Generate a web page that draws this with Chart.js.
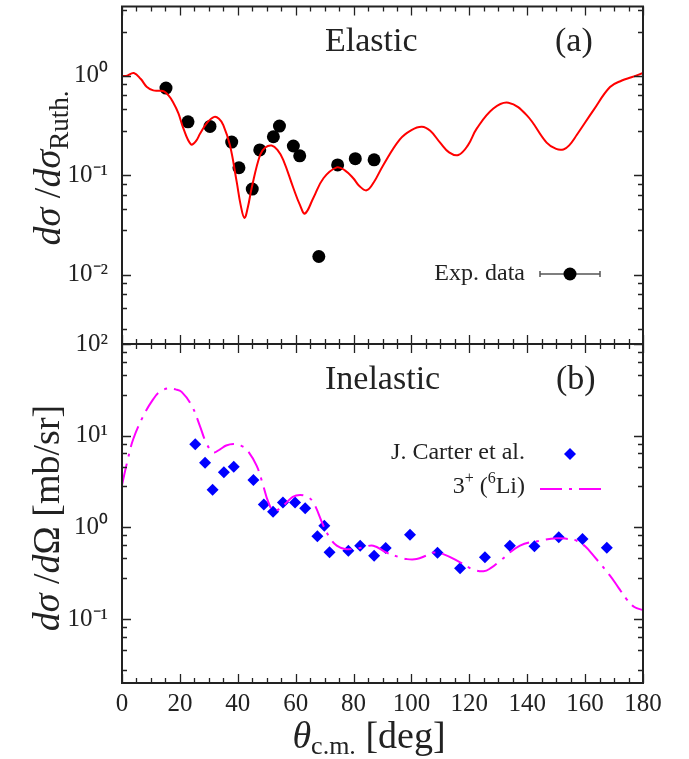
<!DOCTYPE html>
<html><head><meta charset="utf-8">
<script src="https://cdn.jsdelivr.net/npm/chart.js@4/dist/chart.umd.min.js"></script>
<style>
html,body{margin:0;padding:0;background:#fff}
body{width:689px;height:759px;overflow:hidden;position:relative;font-family:'Liberation Serif',serif;color:#222}
canvas{position:absolute;left:0;top:0}
.t{position:absolute;white-space:nowrap;line-height:1}
.sup{font-size:16px;position:relative;top:-10px}
</style></head><body>
<canvas id="c1" width="689" height="759"></canvas>
<canvas id="c2" width="689" height="759"></canvas>

<div class="t" style="left:325px;top:23px;font-size:34px">Elastic</div>
<div class="t" style="left:555px;top:23px;font-size:34px">(a)</div>
<div class="t" style="left:325px;top:361px;font-size:34px">Inelastic</div>
<div class="t" style="left:556px;top:361px;font-size:34px">(b)</div>

<div class="t" style="right:164px;top:260px;font-size:24px">Exp. data</div>
<div class="t" style="right:164px;top:439px;font-size:24px">J. Carter et al.</div>
<div class="t" style="right:164px;top:473px;font-size:24px">3<span class="sup">+</span> (<span class="sup">6</span>Li)</div>

<div class="t" style="left:47px;top:168px;font-size:38px;transform:translate(-50%,-50%) rotate(-90deg)"><i>d</i><i>σ</i> /<i>d</i><i>σ</i><span style="font-size:27px;position:relative;top:8px">Ruth.</span></div>
<div class="t" style="left:46px;top:518px;font-size:38px;transform:translate(-50%,-50%) rotate(-90deg)"><i>d</i><i>σ</i> /<i>d</i>Ω [mb/sr]</div>
<div class="t" style="left:369px;top:716px;font-size:38px;transform:translateX(-50%)"><i>θ</i><span style="font-size:26px;position:relative;top:6px">c.m.</span> [deg]</div>

<script>
// ---- data ----
const thetaTicks = [0,20,40,60,80,100,120,140,160,180];
const elasticTicks = [1, 0.1, 0.01];
const elasticTickLabels = ['10⁰','10⁻¹','10⁻²'];
const inelasticTicks = [100, 10, 1, 0.1];
const inelasticTickLabels = ['10²','10¹','10⁰','10⁻¹'];
const logMinorFactors = [2.8, 4.6, 6.4, 8.2];

const expTheta = [15.2,22.8,30.4,37.9,40.4,45.0,47.6,52.3,54.4,59.2,61.4,68.0,74.5,80.6,87.1];
const expValue = [0.755,0.345,0.31,0.216,0.119,0.0726,0.18,0.244,0.313,0.197,0.157,0.0152,0.127,0.147,0.143];

const elCalcTheta = [0,1.5,4.1,6.5,8.5,10.8,13,14.5,16,17.6,19.5,21.2,23.8,25.5,27,29.5,31.9,33.5,35,37.3,39.6,41,42.3,43.5,44.8,47.7,49.5,51.7,53.7,55.7,59.2,61.5,63.2,66.1,69.6,74.2,77,79.9,82,84.5,87,90.3,96,100,103.6,106.5,109.9,113,116.2,119.5,122.6,128.3,133.5,139.8,146.7,150,152.5,154.5,157.1,162.9,168.6,172.7,176,180];
const elCalcValue = [1.0,1.0,1.07,0.93,0.78,0.716,0.71,0.70,0.64,0.547,0.42,0.296,0.205,0.22,0.263,0.34,0.387,0.37,0.32,0.2,0.0867,0.05,0.0372,0.048,0.0744,0.16,0.19,0.199,0.18,0.143,0.0744,0.05,0.0412,0.059,0.0933,0.12,0.112,0.0933,0.078,0.0705,0.085,0.127,0.23,0.285,0.308,0.28,0.213,0.17,0.16,0.2,0.296,0.469,0.538,0.403,0.213,0.184,0.182,0.2,0.254,0.452,0.773,0.9,0.97,1.07];

const carterTheta = [25.3,28.7,31.3,35.2,38.6,45.4,49.0,52.2,55.6,59.8,63.3,67.5,69.9,71.7,78.2,82.3,87.1,91.1,99.5,109,116.8,125.4,134.0,142.5,150.9,159.1,167.5];
const carterValue = [8.04,5.07,2.57,3.98,4.58,3.28,1.77,1.48,1.87,1.87,1.61,0.798,1.04,0.534,0.556,0.63,0.49,0.594,0.83,0.528,0.357,0.471,0.63,0.62,0.778,0.745,0.6];

const inCalcTheta = [0,2,3.9,7.4,10.8,13,16,18.5,20.6,24.1,26.9,29,31.5,33.9,36,38.5,41,43,46.5,48.8,50.5,52.3,54.5,56.9,59,61.5,64,66.1,69.6,72,74.2,77,79.9,83,86.8,91.4,96,98.3,101.8,105,107.6,111,116.8,121,124.9,127.5,130.6,137.5,144.4,150.2,153.5,157.1,160,162.9,168.6,171.5,174.3,177,180];
const inCalcValue = [2.9,5.5,9.2,16.5,25,30,32.8,32,30,21.2,12.8,8.5,6.58,7.1,7.8,8.1,7.8,7.1,4.7,2.84,1.9,1.52,1.6,1.87,2.15,2.25,2.15,1.87,1.04,0.75,0.63,0.58,0.58,0.6,0.63,0.53,0.47,0.45,0.45,0.49,0.53,0.51,0.415,0.35,0.331,0.36,0.43,0.63,0.714,0.76,0.75,0.714,0.62,0.49,0.297,0.22,0.165,0.135,0.125];

const pts = (xs, ys) => xs.map((x, i) => ({x, y: ys[i]}));

const FONT = "'Liberation Serif', serif";
const INK = '#222';

const frameTicks = {
  id: 'frameTicks',
  afterDraw(chart, args, o) {
    const {ctx, chartArea: a, scales: {x, y}} = chart;
    ctx.save();
    ctx.strokeStyle = INK;
    ctx.lineWidth = 1.3;
    ctx.beginPath();
    for (let v = x.min; v <= x.max + 1e-9; v += o.xMinorStep) {
      const px = Math.round(x.getPixelForValue(v)) + 0.5;
      const L = thetaTicks.includes(v) ? 9 : 5;
      ctx.moveTo(px, a.bottom); ctx.lineTo(px, a.bottom - L);
      ctx.moveTo(px, a.top); ctx.lineTo(px, a.top + L);
    }
    const k0 = Math.floor(Math.log10(y.min)), k1 = Math.ceil(Math.log10(y.max));
    for (let k = k0; k <= k1; k++) {
      const d = Math.pow(10, k);
      const vals = [[d, 9]].concat(logMinorFactors.map(f => [d * f, 5]));
      vals.forEach(([v, L]) => {
        if (v < y.min || v > y.max) return;
        const py = Math.round(y.getPixelForValue(v)) + 0.5;
        ctx.moveTo(a.left, py); ctx.lineTo(a.left + L, py);
        ctx.moveTo(a.right, py); ctx.lineTo(a.right - L, py);
      });
    }
    ctx.stroke();
    ctx.lineWidth = 2;
    ctx.strokeRect(a.left, a.top, a.right - a.left, a.bottom - a.top);
    ctx.restore();
  }
};

const legendMarks = {
  id: 'legendMarks',
  afterDraw(chart, args, o) {
    const ctx = chart.ctx;
    ctx.save();
    (o.items || []).forEach(it => {
      const ds = chart.data.datasets[it.ds];
      if (it.kind === 'errpoint') {
        ctx.strokeStyle = '#555'; ctx.lineWidth = 1.5;
        ctx.beginPath();
        ctx.moveTo(it.x0, it.y); ctx.lineTo(it.x1, it.y);
        ctx.moveTo(it.x0, it.y - 3); ctx.lineTo(it.x0, it.y + 3);
        ctx.moveTo(it.x1, it.y - 3); ctx.lineTo(it.x1, it.y + 3);
        ctx.stroke();
        ctx.fillStyle = ds.backgroundColor;
        ctx.beginPath(); ctx.arc((it.x0 + it.x1) / 2, it.y, ds.pointRadius, 0, Math.PI * 2); ctx.fill();
      } else if (it.kind === 'diamond') {
        const r = ds.pointRadius, cx = (it.x0 + it.x1) / 2;
        ctx.fillStyle = ds.backgroundColor;
        ctx.beginPath();
        ctx.moveTo(cx, it.y - r); ctx.lineTo(cx + r, it.y); ctx.lineTo(cx, it.y + r); ctx.lineTo(cx - r, it.y);
        ctx.closePath(); ctx.fill();
      } else if (it.kind === 'line') {
        ctx.strokeStyle = ds.borderColor; ctx.lineWidth = ds.borderWidth;
        ctx.setLineDash(ds.borderDash || []);
        ctx.beginPath(); ctx.moveTo(it.x0, it.y); ctx.lineTo(it.x1, it.y); ctx.stroke();
        ctx.setLineDash([]);
      }
    });
    ctx.restore();
  }
};

function yScale(min, max, ticks, labels) {
  return {
    type: 'logarithmic', position: 'left', min, max,
    afterFit(s) { s.width = 122; s.paddingTop = 0; s.paddingBottom = 0; },
    afterBuildTicks(s) { s.ticks = ticks.map(v => ({value: v})); },
    grid: {display: false, drawTicks: false},
    border: {display: false},
    ticks: {
      padding: 14, color: INK, font: {family: FONT, size: 25},
      callback(v) { const i = ticks.indexOf(v); return i >= 0 ? labels[i] : ''; }
    }
  };
}

const common = {
  responsive: false, animation: false, devicePixelRatio: 1,
  plugins: {legend: {display: false}, tooltip: {enabled: false}},
};

new Chart(document.getElementById('c1'), {
  type: 'line',
  data: {datasets: [
    {label: 'Calc', data: pts(elCalcTheta, elCalcValue), borderColor: '#ff0000', borderWidth: 2, pointRadius: 0, tension: 0.4, fill: false},
    {label: 'Exp. data', data: pts(expTheta, expValue), showLine: false, pointStyle: 'circle', pointRadius: 6.5, backgroundColor: '#000', borderColor: '#000', borderWidth: 0}
  ]},
  options: Object.assign({}, common, {
    layout: {padding: {left: 0, top: 4, right: 46, bottom: 759 - 344}},
    scales: {
      x: {type: 'linear', min: 0, max: 180, display: false},
      y: yScale(0.002, 5, elasticTicks, elasticTickLabels)
    },
    plugins: Object.assign({}, common.plugins, {
      frameTicks: {xMinorStep: 5},
      legendMarks: {items: [{ds: 1, kind: 'errpoint', x0: 540, x1: 600, y: 274}]}
    })
  }),
  plugins: [frameTicks, legendMarks]
});

new Chart(document.getElementById('c2'), {
  type: 'line',
  data: {datasets: [
    {label: '3+ (6Li)', data: pts(inCalcTheta, inCalcValue), borderColor: '#ff00ff', borderWidth: 2, borderDash: [22, 7, 3, 7], pointRadius: 0, tension: 0.4, fill: false},
    {label: 'J. Carter et al.', data: pts(carterTheta, carterValue), showLine: false, pointStyle: 'rectRot', pointRadius: 6, backgroundColor: '#0000ff', borderColor: '#0000ff', borderWidth: 0}
  ]},
  options: Object.assign({}, common, {
    layout: {padding: {left: 0, top: 344, right: 46, bottom: 0}},
    scales: {
      x: {
        type: 'linear', min: 0, max: 180, position: 'bottom',
        afterFit(s) { s.height = 759 - 683; s.paddingLeft = 0; s.paddingRight = 0; },
        afterBuildTicks(s) { s.ticks = thetaTicks.map(v => ({value: v})); },
        grid: {display: false, drawTicks: false},
        border: {display: false},
        ticks: {padding: 6, color: INK, maxRotation: 0, autoSkip: false, font: {family: FONT, size: 25}, callback: v => String(v)}
      },
      y: yScale(0.02, 100, inelasticTicks, inelasticTickLabels)
    },
    plugins: Object.assign({}, common.plugins, {
      frameTicks: {xMinorStep: 5},
      legendMarks: {items: [
        {ds: 1, kind: 'diamond', x0: 540, x1: 600, y: 454},
        {ds: 0, kind: 'line', x0: 540, x1: 601, y: 489}
      ]}
    })
  }),
  plugins: [frameTicks, legendMarks]
});
</script>
</body></html>
